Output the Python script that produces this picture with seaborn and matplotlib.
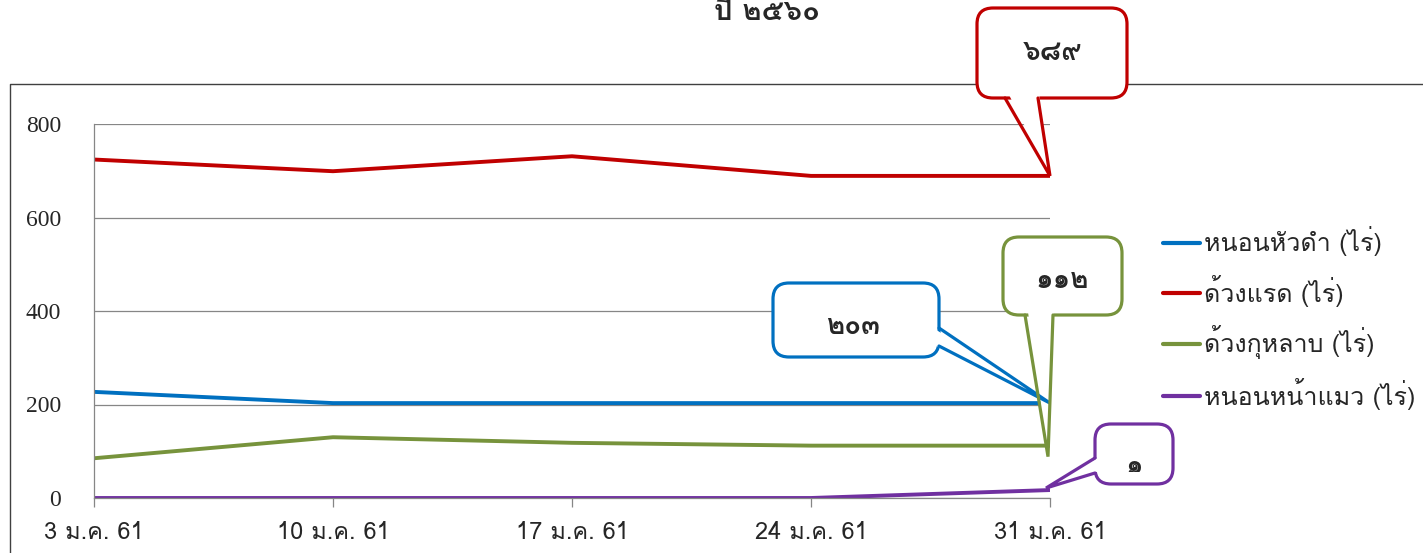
import numpy as np
import pandas as pd
import matplotlib
matplotlib.use('Agg')
import matplotlib.pyplot as plt
import seaborn as sns
from matplotlib import font_manager
from matplotlib.patches import FancyBboxPatch, Polygon, Rectangle
from matplotlib.lines import Line2D
from matplotlib.transforms import IdentityTransform

# ---- data ----
dates = ['3 ม.ค. 61', '10 ม.ค. 61', '17 ม.ค. 61', '24 ม.ค. 61', '31 ม.ค. 61']
series_names = ['หนอนหัวดำ (ไร่)', 'ด้วงแรด (ไร่)', 'ด้วงกุหลาบ (ไร่)', 'หนอนหน้าแมว (ไร่)']
hnon_hua_dam = [227, 203, 203, 203, 203]
duang_raed = [724, 699, 731, 689, 689]
duang_kulab = [85, 130, 118, 112, 112]
hnon_na_maew = [0, 0, 0, 0, 17]
colors = ['#0070C0', '#C00000', '#77933C', '#7030A0']
callout_texts = ['๒๐๓', '๖๘๙', '๑๑๒', '๑']
title_text = 'ปี ๒๕๖๐'
y_ticks = [0, 200, 400, 600, 800]

W, H = 1423, 553


def find_thai_font():
    # pick the first installed family that has Thai glyphs
    for f in font_manager.fontManager.ttflist:
        try:
            cmap = font_manager.get_font(f.fname).get_charmap()
        except Exception:
            continue
        if 0x0E2B in cmap and 0x0E51 in cmap:
            return f.name
    return None


sns.set_style('white')
thai = find_thai_font()
fams = ([thai] if thai else []) + ['DejaVu Sans']
plt.rcParams['font.family'] = fams

df = pd.DataFrame({
    'date': dates * 4,
    'value': hnon_hua_dam + duang_raed + duang_kulab + hnon_na_maew,
    'series': np.repeat(series_names, len(dates)),
})

fig = plt.figure(figsize=(W / 100, H / 100), dpi=100)
ax = fig.add_axes([94 / W, (H - 498) / H, (1050 - 94) / W, (498 - 124) / H])

sns.lineplot(data=df, x='date', y='value', hue='series', palette=colors,
             linewidth=2.8, sort=False, ax=ax)

ax.set_xlim(0, len(dates) - 1)
ax.set_ylim(0, 800)
ax.set_yticks(y_ticks)
ax.set_xlabel('')
ax.set_ylabel('')
ax.grid(axis='y', color='#868686', linewidth=0.9)
ax.set_axisbelow(True)
for s in ['top', 'right']:
    ax.spines[s].set_visible(False)
for s in ['left', 'bottom']:
    ax.spines[s].set_color('#868686')
    ax.spines[s].set_linewidth(0.9)
ax.tick_params(axis='y', length=8.6, width=0.9, color='#868686', pad=15,
               labelsize=17)
ax.tick_params(axis='x', length=6.5, width=0.9, color='#868686', pad=10,
               labelsize=17, bottom=True)
for lab in ax.get_yticklabels():
    lab.set_family(['Liberation Serif', 'DejaVu Serif'])

leg = ax.legend(loc='center left', bbox_to_anchor=(1140 / W, 1 - 318 / H),
                bbox_transform=fig.transFigure, frameon=False, fontsize=18,
                handlelength=1.5, handletextpad=0.15, labelspacing=0.74)
for line in leg.get_lines():
    line.set_linewidth(3)

# outer chart border
ident = IdentityTransform()
fig.add_artist(Line2D([10, 10, W], [0, H - 84, H - 84], transform=ident,
                      color='#404040', linewidth=1.0))

# title, cut at the top of the image as in the reference
fig.text(767 / W, 1 - 12 / H, title_text, ha='center', va='center',
         fontsize=21, fontweight='bold')


def px(x, y):
    return x, H - y


def callout(box, base, idx, color, text, text_xy, tip_off=(0, 0), clip=None):
    x0, y0, x1, y1 = box
    bx, by = px(x0, y1)
    patch = FancyBboxPatch((bx, by), x1 - x0, y1 - y0,
                           boxstyle='round,pad=0,rounding_size=16',
                           transform=ident, facecolor='white',
                           edgecolor=color, linewidth=2.3, zorder=5)
    fig.add_artist(patch)
    name = series_names[colors.index(color)]
    tip = ax.transData.transform((idx, df[df.series == name].value.iloc[idx]))
    tip = (tip[0] + tip_off[0], tip[1] - tip_off[1])
    (ax_, ay_), (bx_, by_) = [px(*p) for p in base]
    # white wedge hides the box edge under the tail base
    cx, cy = px((x0 + x1) / 2, (y0 + y1) / 2)
    inner = [(ax_ + (cx - ax_) * 0.08, ay_ + (cy - ay_) * 0.08),
             (bx_ + (cx - bx_) * 0.08, by_ + (cy - by_) * 0.08)]
    fig.add_artist(Polygon([inner[0], tip, inner[1]], closed=True,
                           transform=ident, facecolor='white',
                           edgecolor='none', zorder=6))
    fig.add_artist(Line2D([ax_, tip[0], bx_], [ay_, tip[1], by_],
                          transform=ident, color=color, linewidth=2.3,
                          solid_joinstyle='miter', zorder=7))
    t = fig.text(*px(*text_xy), text, transform=ident, ha='center',
                 va='center', fontsize=20, fontweight='bold', zorder=8)
    if clip is not None:
        cx0, cy0, cx1, cy1 = clip
        r = Rectangle(px(cx0, cy1), cx1 - cx0, cy1 - cy0, transform=ident)
        t.set_clip_path(r)


fig.canvas.draw()
last = len(dates) - 1
callout((977, 8, 1127, 98), [(1005, 98), (1038, 98)], last, colors[1],
        callout_texts[1], (1053, 52))
callout((773, 283, 939, 357), [(939, 328), (939, 346)], last, colors[0],
        callout_texts[0], (853, 327))
callout((1003, 237, 1122, 315), [(1025, 315), (1053, 315)], last, colors[2],
        callout_texts[2], (1062, 281), tip_off=(-2, 11))
callout((1095, 424, 1173, 484), [(1095, 458), (1095, 473)], last, colors[3],
        callout_texts[3], (1134, 467), tip_off=(-4, -2), clip=(1095, 424, 1173, 472))

fig.savefig('out.png', dpi=100)
